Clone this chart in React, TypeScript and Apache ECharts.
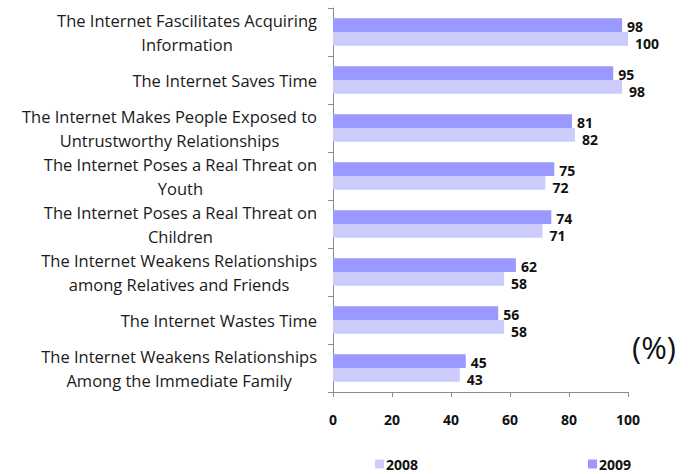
import React, { useEffect, useRef } from "react";
import * as echarts from "echarts";

const categories = [
  "The Internet Fascilitates Acquiring\nInformation",
  "The Internet Saves Time",
  "The Internet Makes People Exposed to\nUntrustworthy Relationships",
  "The Internet Poses a Real Threat on\nYouth",
  "The Internet Poses a Real Threat on\nChildren",
  "The Internet Weakens Relationships\namong Relatives and Friends",
  "The Internet Wastes Time",
  "The Internet Weakens Relationships\nAmong the Immediate Family",
];
const values2009 = [98, 95, 81, 75, 74, 62, 56, 45];
const values2008 = [100, 98, 82, 72, 71, 58, 58, 43];
const xTicks = [0, 20, 40, 60, 80, 100];

const FONT = "'Open Sans', sans-serif";

export default function App() {
  const ref = useRef<HTMLDivElement>(null);
  useEffect(() => {
    document.body.style.margin = "0";
    if (!ref.current) return;
    const chart = echarts.init(ref.current, undefined, { renderer: "svg" });
    const labelBase = {
      show: true,
      position: "right",
      fontFamily: FONT,
      fontWeight: "bold",
      fontSize: 14,
      lineHeight: 14,
      color: "#111",
    };
    const legendText = {
      fontFamily: FONT,
      fontWeight: "bold",
      fontSize: 14,
      lineHeight: 14,
      color: "#111",
      padding: [0, 0, 0, -3],
    };
    chart.setOption({
      animation: false,
      grid: { left: 333, right: 65, top: 8, bottom: 82, containLabel: false },
      legend: [
        {
          data: ["2008"],
          left: 370,
          top: 452,
          itemWidth: 9,
          itemHeight: 9,
          icon: "rect",
          textStyle: legendText,
        },
        {
          data: ["2009"],
          left: 583,
          top: 452,
          itemWidth: 9,
          itemHeight: 9,
          icon: "rect",
          textStyle: legendText,
        },
      ],
      xAxis: {
        type: "value",
        min: xTicks[0],
        max: xTicks[xTicks.length - 1],
        interval: xTicks[1] - xTicks[0],
        axisLine: { show: true, lineStyle: { color: "#8c8c8c" } },
        axisTick: { show: true, length: 5, lineStyle: { color: "#8c8c8c" } },
        splitLine: { show: false },
        axisLabel: {
          margin: 20,
          fontFamily: FONT,
          fontWeight: "bold",
          fontSize: 14,
          color: "#111",
        },
      },
      yAxis: {
        type: "category",
        inverse: true,
        data: categories,
        axisLine: { show: true, lineStyle: { color: "#8c8c8c" } },
        axisTick: { show: true, length: 5, lineStyle: { color: "#8c8c8c" } },
        axisLabel: {
          margin: 16,
          formatter: (v: string) => `{c|${v}}`,
          rich: {
            c: {
              align: "center",
              fontFamily: FONT,
              fontSize: 16.5,
              lineHeight: 24,
              color: "#1a1a1a",
            },
          },
        },
      },
      series: [
        {
          name: "2009",
          type: "bar",
          data: values2009,
          barGap: "0%",
          barCategoryGap: "43%",
          itemStyle: { color: "#9999ff" },
          label: { ...labelBase, distance: 5, offset: [0, 1] },
        },
        {
          name: "2008",
          type: "bar",
          data: values2008,
          barGap: "0%",
          barCategoryGap: "43%",
          itemStyle: { color: "#ccccff" },
          label: { ...labelBase, distance: 7, offset: [0, 5] },
        },
      ],
      graphic: [
        {
          type: "text",
          left: 632,
          top: 331,
          style: { text: "(%)", fontFamily: FONT, fontSize: 31, fill: "#111" },
        },
      ],
    });
    return () => chart.dispose();
  }, []);
  return <div ref={ref} style={{ width: 693, height: 474 }} />;
}
